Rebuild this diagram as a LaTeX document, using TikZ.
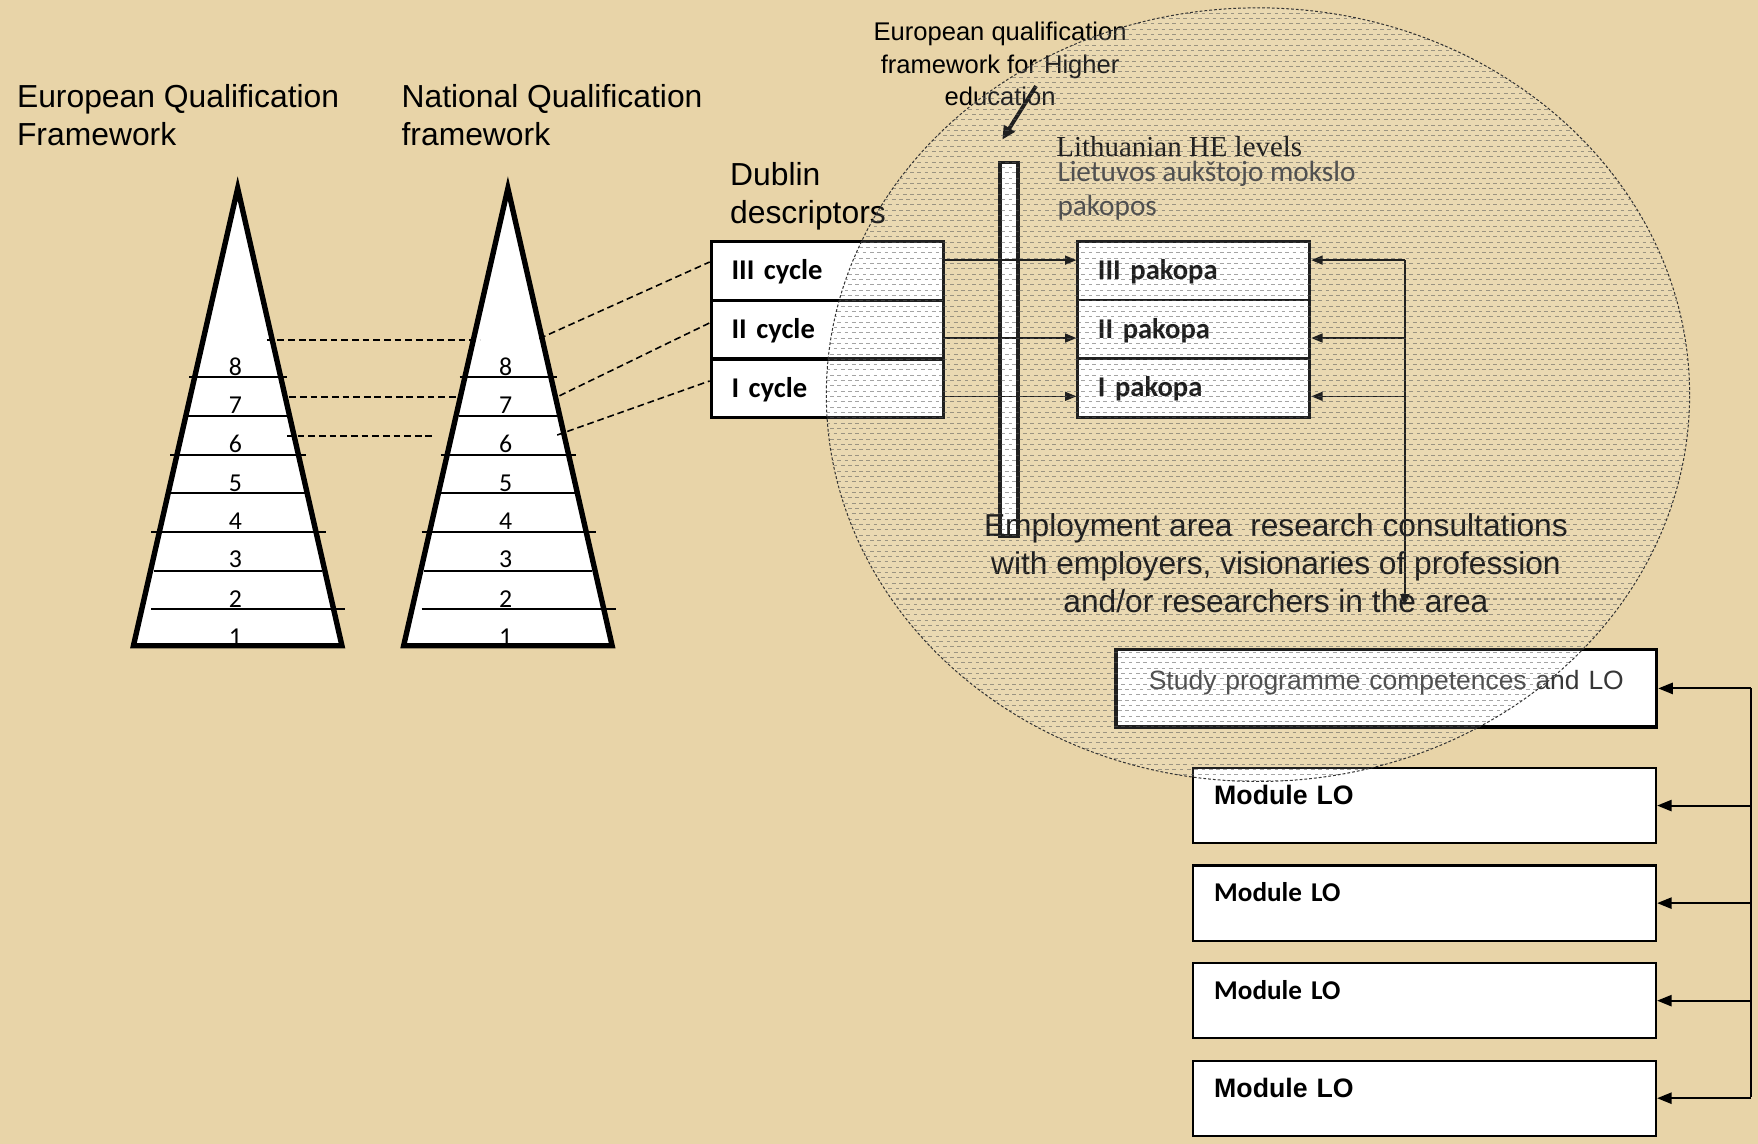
\documentclass[tikz,border=0pt]{standalone}
\usepackage{fontspec}
\setmainfont{Liberation Sans}
\newfontfamily\calfont{Carlito}
\newfontfamily\serfont{Liberation Serif}
\usetikzlibrary{positioning,arrows.meta}
\definecolor{parch}{RGB}{232,212,168}
\definecolor{hatch}{RGB}{90,90,90}
\definecolor{softink}{RGB}{55,55,55}

\begin{document}
\begin{tikzpicture}[
  x=1pt, y=-1pt,
  node distance=0pt,
  % one unit is one pixel of the slide, y running downwards
  title/.style={align=left, inner sep=0pt, anchor=north west,
                font=\fontsize{28.4}{34}\selectfont},
  cycbox/.style={draw, fill=white, line width=3pt, minimum height=52.3pt,
                 inner xsep=18pt, inner ysep=0pt, text width=171pt, align=left,
                 text height=20pt, text depth=4pt,
                 font=\calfont\bfseries\fontsize{25.5}{30}\selectfont},
  lvlbox/.style={cycbox, line width=2.6pt},
  modbox/.style={draw, fill=white, line width=2pt, inner xsep=19pt,
                 text width=375pt, align=left, inner ysep=4pt,
                 text height=28.5pt, text depth=30.5pt},
  studybox/.style={draw, fill=white, line width=3pt, inner xsep=0pt,
                   text width=482pt, align=center, inner ysep=3pt,
                   text height=32.5pt, text depth=30.5pt, text=softink,
                   font=\fontsize{23.6}{28}\selectfont},
  barbox/.style={draw, fill=white, line width=3pt, inner sep=0pt,
                 minimum width=16pt, minimum height=333pt},
  num/.style={inner sep=0pt, font=\calfont\fontsize{23}{26}\selectfont},
  tri/.style={draw, fill=white, line width=4.8pt},
  dlink/.style={line width=1.4pt, dash pattern=on 6pt off 3.5pt},
  hatchline/.style={hatch, opacity=0.55, line width=0.9pt, dash pattern=on 3.3pt off 3.2pt},
  arr/.style={-{Triangle[length=10pt,width=8pt]}, line width=1.3pt},
  arrb/.style={-{Triangle[length=13pt,width=10pt]}, line width=1.8pt}
]
\useasboundingbox (0,0) rectangle (1568,1020);
\fill[parch] (0,0) rectangle (1568,1020);

% the two level pyramids
\foreach \cx/\nm in {212/eqf, 453/nqf}{
  \draw[tri] (\cx,168) -- (\cx-93,576) -- (\cx+93,576) -- cycle;
  \foreach \yy/\l/\r in {336.6/43/44, 371/44/44, 405.6/60/61, 440/60/61,
                         474.4/77/79, 509/75/75, 543.3/77/96}
    \draw[line width=1.8pt] (\cx-\l,\yy) -- (\cx+\r,\yy);
  \foreach \k/\yy in {8/327, 7/361, 6/396, 5/431, 4/465, 3/499, 2/534, 1/568}
    \node[num] (\nm-\k) at (\cx-2,\yy) {\k};
}

\node[title] (eqf-title) at (15,75) {European Qualification\\Framework};
\node[title] (nqf-title) at (358,75) {National Qualification\\framework};
\node[title] (dub-title) at (651,145) {Dublin\\descriptors};
\node[align=center, inner sep=0pt, anchor=north,
      font=\fontsize{22.8}{29}\selectfont] (eqfhe) at (892,19.6)
      {European qualification\\framework for Higher\\education};
\node[anchor=base west, inner sep=0pt,
      font=\serfont\fontsize{25.8}{30}\selectfont] (lt-en) at (942,139.5)
      {Lithuanian HE levels};
\node[anchor=north west, align=left, inner sep=0pt, text=softink,
      font=\calfont\fontsize{26.1}{30}\selectfont] (lt-lt) at (943,144)
      {Lietuvos aukštojo mokslo\\pakopos};

% cycles and levels
\node[cycbox, anchor=north west] (c3) at (633,214) {III cycle};
\node[cycbox, below=-3pt of c3] (c2) {II cycle};
\node[cycbox, below=-3pt of c2] (c1) {I cycle};
\node[lvlbox, anchor=north west] (p3) at (960,214) {III pakopa};
\node[lvlbox, below=-2.6pt of p3] (p2) {II pakopa};
\node[lvlbox, below=-2.6pt of p2] (p1) {I pakopa};
\node[barbox] (bar) at (900,311.5) {};

\node[anchor=north, align=center, inner sep=0pt,
      font=\fontsize{28.3}{34}\selectfont] (emp) at (1138,458)
      {Employment area~ research consultations\\with employers, visionaries of profession\\and/or researchers in the area};

\node[studybox, anchor=north west] (study) at (994,578) {Study programme competences and LO};
\node[modbox, anchor=north west, font=\bfseries\fontsize{23.8}{28}\selectfont] (m1) at (1063,684) {Module LO};
\node[modbox, below=18pt of m1, font=\calfont\bfseries\fontsize{24.2}{28}\selectfont] (m2) {Module LO};
\node[modbox, below=18pt of m2, font=\calfont\bfseries\fontsize{24.2}{28}\selectfont] (m3) {Module LO};
\node[modbox, below=18pt of m3, font=\bfseries\fontsize{23.8}{28}\selectfont] (m4) {Module LO};

% dashed level links
\coordinate (e8) at (238,303);  \coordinate (n8) at (428,303);
\coordinate (e7) at (258,354);  \coordinate (n7) at (408,354);
\coordinate (e6) at (256,389);  \coordinate (n6) at (387,389);
\coordinate (o3) at (481,302);  \coordinate (o2) at (499,353);
\coordinate (o1) at (497,388);
\foreach \a/\b in {e8/n8, e7/n7, e6/n6}
  \draw[dlink] (\a) -- (\b);
\draw[dlink] (o3) -- ([yshift=8pt]c3.west);
\draw[dlink] (o2) -- ([yshift=6pt]c2.west);
\draw[dlink] (o1) -- ([yshift=6.5pt]c1.west);

\draw[line width=3.4pt, -{Triangle[length=12pt,width=11pt]}]
  ([xshift=32pt,yshift=18pt]eqfhe.south) -- ([xshift=-6pt,yshift=19pt]bar.north);

% right hand feeds
\coordinate (j3) at (1253,232);
\coordinate (j2) at (1253,301.5);
\coordinate (j1) at (1253,353.5);
\coordinate (jend) at (1253,540);
\draw[arr] (j3) -- (jend);
\foreach \n in {3,2,1}{
  \draw[arr] (c\n.east |- j\n) -- (p\n.west |- j\n);
  \draw[arr] (j\n) -- (p\n.east |- j\n);
}
\coordinate (bus-top) at (1562,613.5);
\coordinate (bus-bot) at (1562,978);
\draw[line width=1.8pt] (bus-top) -- (bus-bot);
\foreach \b in {study, m1, m2, m3, m4}
  \draw[arrb] (\b.east -| bus-top) -- (\b.east);

% the dotted employment zone
\begin{scope}
  \clip (1122,352) ellipse [x radius=385pt, y radius=345pt];
  \fill[white, opacity=0.12] (737,7) rectangle (1508,698);
  \foreach \yy in {7,16.5,...,698}
    \draw[hatchline] (737,\yy) -- (1508,\yy);
  \foreach \yy in {11.75,21.25,...,698}
    \draw[hatchline, dash phase=3.25pt] (737,\yy) -- (1508,\yy);
\end{scope}
\draw[black!80, line width=0.9pt, dash pattern=on 2.5pt off 1.8pt]
  (1122,352) ellipse [x radius=385pt, y radius=345pt];
\end{tikzpicture}
\end{document}
